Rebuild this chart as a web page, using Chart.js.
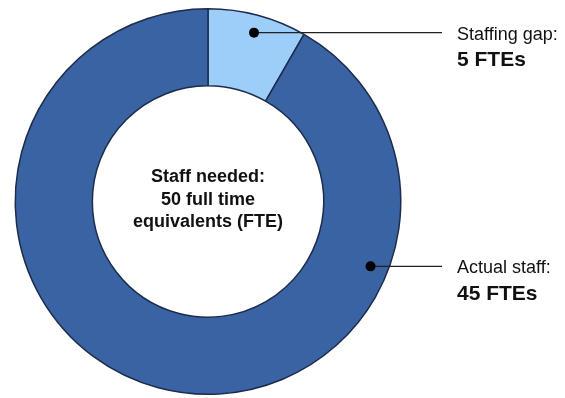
<!DOCTYPE html>
<html>
<head>
<meta charset="utf-8">
<script src="https://cdn.jsdelivr.net/npm/chart.js@4"></script>
<style>
  html, body { margin: 0; padding: 0; background: #ffffff; }
  #wrap { width: 565px; height: 398px; position: relative; }
</style>
</head>
<body>
<div id="wrap"><canvas id="staffChart"></canvas></div>
<script>
// ---- data ----
// slice sizes as drawn in the picture (gap wedge spans ~30 degrees)
const categories = ['Staffing gap', 'Actual staff'];
const fteValues = [4.15, 45.85];
const labelTitles = ['Staffing gap:', 'Actual staff:'];
const labelValues = ['5 FTEs', '45 FTEs'];
const centerLines = ['Staff needed:', '50 full time', 'equivalents (FTE)'];

const sliceColors = ['#9dcdf9', '#3a63a4'];
const edgeColor = '#1c2c4a';

// where along each slice the callout dot sits (0 = start, 1 = end)
const dotAlong = [0.51, 0.248];

// callout lines + labels on the right, text in the hole
const calloutPlugin = {
    id: 'callouts',
    afterDatasetsDraw(chart) {
        const ctx = chart.ctx;
        const arcs = chart.getDatasetMeta(0).data;
        const textX = 457;
        const lineEnd = 442;

        arcs.forEach((arc, i) => {
            const p = arc.getProps(['x', 'y', 'startAngle', 'endAngle', 'innerRadius', 'outerRadius'], true);
            const a = p.startAngle + (p.endAngle - p.startAngle) * dotAlong[i];
            const r = p.innerRadius + (p.outerRadius - p.innerRadius) * 0.77;
            const dx = p.x + Math.cos(a) * r;
            const dy = p.y + Math.sin(a) * r;

            ctx.save();
            ctx.strokeStyle = '#222222';
            ctx.lineWidth = 1.3;
            ctx.beginPath();
            ctx.moveTo(dx, dy);
            ctx.lineTo(lineEnd, dy);
            ctx.stroke();

            ctx.fillStyle = '#000000';
            ctx.beginPath();
            ctx.arc(dx, dy, 5, 0, Math.PI * 2);
            ctx.fill();

            ctx.fillStyle = '#111111';
            ctx.textAlign = 'left';
            ctx.textBaseline = 'middle';
            ctx.font = '18px "Liberation Sans", Arial, sans-serif';
            ctx.fillText(labelTitles[i], textX, dy + 2);
            ctx.font = 'bold 21px "Liberation Sans", Arial, sans-serif';
            ctx.fillText(labelValues[i], textX, dy + 28);
            ctx.restore();
        });

        // center text
        const c = arcs[0];
        ctx.save();
        ctx.fillStyle = '#111111';
        ctx.textAlign = 'center';
        ctx.textBaseline = 'middle';
        ctx.font = 'bold 18px "Liberation Sans", Arial, sans-serif';
        centerLines.forEach((t, k) => {
            ctx.fillText(t, c.x, c.y - 24 + k * 22.5);
        });
        ctx.restore();
    }
};

new Chart(document.getElementById('staffChart'), {
    type: 'doughnut',
    data: {
        labels: categories,
        datasets: [{
            data: fteValues,
            backgroundColor: sliceColors,
            borderColor: edgeColor,
            borderWidth: 1.5,
            borderAlign: 'center'
        }]
    },
    options: {
        responsive: true,
        maintainAspectRatio: false,
        animation: false,
        cutout: '60%',
        layout: {
            padding: { left: 14, right: 163, top: 8, bottom: 3 }
        },
        plugins: {
            legend: { display: false },
            tooltip: { enabled: false }
        }
    },
    plugins: [calloutPlugin]
});
</script>
</body>
</html>
